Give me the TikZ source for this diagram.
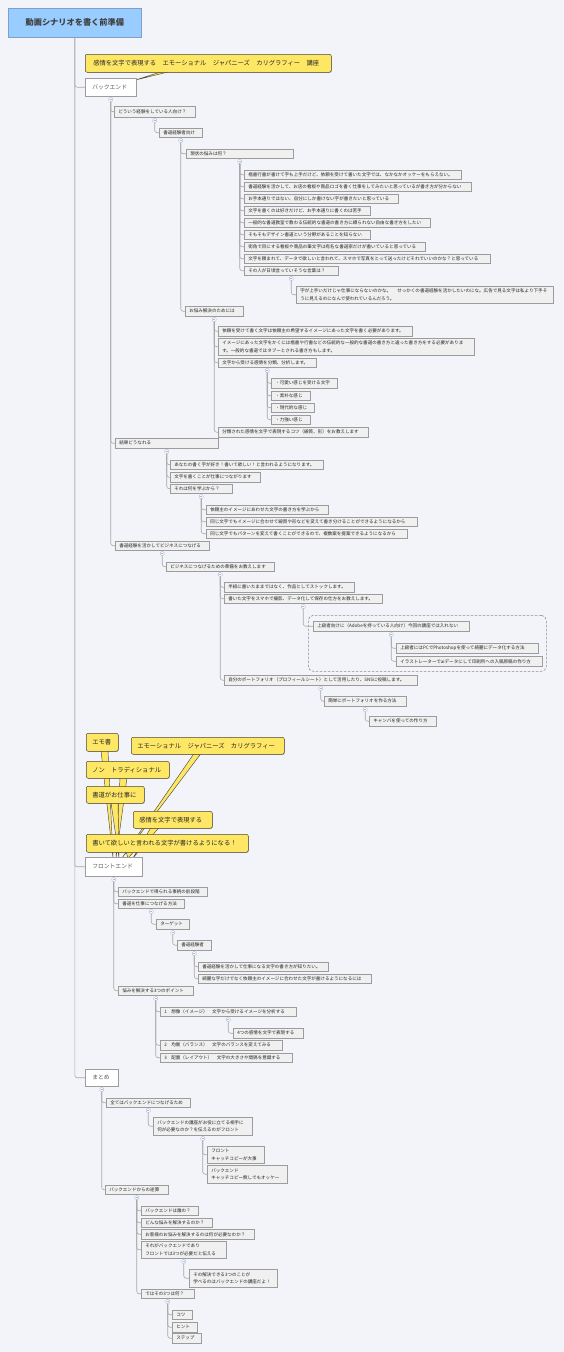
\documentclass[tikz,border=0pt]{standalone}
\usepackage{fontspec}
\setmainfont{Noto Sans CJK JP}
\usetikzlibrary{shadows}
\pgfdeclarelayer{bgl}
\pgfdeclarelayer{tails}
\pgfsetlayers{bgl,tails,main}
\definecolor{bg}{HTML}{F3F4F9}
\definecolor{itemfill}{HTML}{F0F0F0}
\definecolor{itemdraw}{HTML}{9C9C9C}
\definecolor{connc}{HTML}{A8A8A8}
\definecolor{togc}{HTML}{A9B8D8}
\definecolor{rootfill}{HTML}{99CCFF}
\definecolor{rootdraw}{HTML}{7F9FC8}
\definecolor{yel}{HTML}{FFE766}
\definecolor{yeldraw}{HTML}{4A4A3A}
\definecolor{txt}{HTML}{262626}
\tikzset{
  basebox/.style={rectangle, inner ysep=0pt, align=left, text=txt},
  itembox/.style={basebox, fill=itemfill, draw=itemdraw, line width=0.5pt,
    font=\fontsize{4.55}{7.5}\selectfont,
    drop shadow={shadow xshift=0.6pt, shadow yshift=-0.6pt, fill=black, opacity=0.25}},
  lvlbox/.style={basebox, fill=white, draw=itemdraw, line width=0.5pt,
    font=\fontsize{5.8}{8}\selectfont, text=black!65,
    drop shadow={shadow xshift=0.6pt, shadow yshift=-0.6pt, fill=black, opacity=0.2}},
  callout/.style={basebox, fill=yel, draw=yeldraw, line width=0.5pt, rounded corners=2pt,
    font=\fontsize{6.3}{8}\selectfont, text=black!85,
    drop shadow={shadow xshift=0.6pt, shadow yshift=-0.6pt, fill=black, opacity=0.25}},
  rootbox/.style={rectangle, fill=rootfill, draw=rootdraw, line width=0.6pt,
    font=\fontsize{8.2}{10}\selectfont\bfseries, text=black!75,
    drop shadow={shadow xshift=0.6pt, shadow yshift=-0.6pt, fill=black, opacity=0.2}},
  conn/.style={draw=connc, line width=0.6pt, rounded corners=2.5pt},
  tog/.style={circle, draw=togc, fill=white, line width=0.4pt, minimum size=4.2pt, inner sep=0pt,
    path picture={\draw[togc, line width=0.4pt] ([xshift=-1.1pt]path picture bounding box.center) -- ([xshift=1.1pt]path picture bounding box.center);}},
  tail/.style={fill=yel, draw=yeldraw, line width=0.45pt, line join=round},
  dashbox/.style={rectangle, draw=black!45, line width=0.6pt, dash pattern=on 2.5pt off 1.5pt, rounded corners=5pt}
}
% style, pad, name, x1, y1, x2, y2, text
\newcommand\bx[8]{%
  \pgfmathsetmacro\bxw{#6-#4-2*#2}\pgfmathsetmacro\bxh{#7-#5}%
  \node[#1, inner xsep=#2pt, anchor=north west, text width=\bxw pt, minimum height=\bxh pt] (#3) at (#4,#5) {#8};}
\newcommand\ib[6]{\bx{itembox}{4}{#1}{#2}{#3}{#4}{#5}{#6}}
\newcommand\kids[2]{%
  \node[tog] (t#1) at ([yshift=-3pt]#1.south) {};
  \foreach \c in {#2} {\draw[conn] (t#1.south) |- (\c.west);}}
\begin{document}
\begin{tikzpicture}[x=1pt, y=-1pt]
\begin{pgfonlayer}{bgl}
\fill[bg] (0,0) rectangle (564,1352);
\end{pgfonlayer}
\useasboundingbox (0,0) rectangle (564,1352);

\node[rootbox, anchor=north west, minimum width=133pt, minimum height=29pt] (root) at (8,8) {動画シナリオを書く前準備};
\bx{callout}{8}{co1}{85}{54}{331}{72}{感情を文字で表現する　エモーショナル　ジャパニーズ　カリグラフィー　講座}
\bx{lvlbox}{7}{bk}{85}{78}{136}{96}{バックエンド}

\ib{n1}{114}{106}{195}{117}{どういう経験をしている人向け？}
\ib{n11}{159}{128}{202}{137}{書道経験者向け}
\ib{n111}{186}{149}{293}{158}{現状の悩みは何？}
\ib{a1}{244}{170}{461}{179}{楷書行書が書けて字も上手だけど、依頼を受けて書いた文字では、なかなかオッケーをもらえない。}
\ib{a2}{244}{182}{471}{191}{書道経験を活かして、お店の看板や商品ロゴを書く仕事をしてみたいと思っているが書き方が分からない}
\ib{a3}{244}{194}{398}{203}{お手本通りではない、自分にしか書けない字が書きたいと思っている}
\ib{a4}{244}{206}{370}{215}{文字を書くのは好きだけど、お手本通りに書くのは苦手}
\ib{a5}{244}{218}{430}{227}{一般的な書道教室で教わる伝統的な書道の書き方に縛られない自由な書き方をしたい}
\ib{a6}{244}{230}{370}{239}{そもそもデザイン書道という分野があることを知らない}
\ib{a7}{244}{242}{425}{251}{街角で目にする看板や商品の筆文字は有名な書道家だけが書いていると思っている}
\ib{a8}{244}{254}{490}{263}{文字を頼まれて、データで欲しいと言われて、スマホで写真をとって送ったけどそれでいいのかな？と思っている}
\ib{a9}{244}{266}{338}{275}{その人が日頃言っていそうな言葉は？}
\ib{a91}{296}{286}{553}{303}{字が上手いだけじゃ仕事にならないのかな。\hspace{6pt}せっかくの書道経験を活かしたいのにな。広告で見る文字は私より下手そ\\うに見えるのになんで使われているんだろう。}
\ib{n112}{185}{306}{243}{316}{お悩み解決のためには}
\ib{b1}{218}{326}{412}{336}{依頼を受けて書く文字は依頼主の希望するイメージにあった文字を書く必要があります。}
\ib{b2}{218}{338}{474}{355}{イメージにあった文字をかくには楷書や行書などの伝統的な一般的な書道の書き方と違った書き方をする必要がありま\\す。一般的な書道ではタブーとされる書き方もします。}
\ib{b3}{218}{358}{316}{367}{文字から受ける感情を分類、分析します。}
\ib{b31}{271}{378}{337}{388}{・可愛い感じを受ける文字}
\ib{b32}{271}{391}{310}{400}{・素朴な感じ}
\ib{b33}{271}{403}{314}{412}{・現代的な感じ}
\ib{b34}{271}{415}{310}{424}{・力強い感じ}
\ib{b4}{218}{427}{368}{437}{分類された感情を文字で表現するコツ（線質、形）をお教えします}
\ib{n2}{115}{438}{218}{448}{結果どうなれる}
\ib{c1}{170}{460}{323}{469}{あなたの書く字が好き！書いて欲しい！と言われるようになります。}
\ib{c2}{170}{472}{260}{482}{文字を書くことが仕事につながります}
\ib{c3}{170}{484}{232}{493}{それは何を学ぶから？}
\ib{c31}{206}{505}{328}{514}{依頼主のイメージにあわせた文字の書き方を学ぶから}
\ib{c32}{206}{517}{417}{526}{同じ文字でもイメージに合わせて線質や形などを変えて書き分けることができるようになるから}
\ib{c33}{206}{529}{407}{538}{同じ文字でもパターンを変えて書くことができるので、複数案を提案できるようになるから}
\ib{n3}{115}{541}{209}{550}{書道経験を活かしてビジネスにつなげる}
\ib{d1}{166}{562}{274}{571}{ビジネスにつなげるための準備をお教えします}
\ib{d11}{224}{582}{354}{592}{半紙に書いたままではなく、作品としてストックします。}
\ib{d12}{224}{594}{382}{603}{書いた文字をスマホで撮影、データ化して保存の仕方をお教えします。}
\node[dashbox, anchor=north west, minimum width=238pt, minimum height=56pt] (dbox) at (308,615) {};
\ib{d121}{313}{621}{469}{631}{上級者向けに（Adobeを持っている人向け）今回の講座では入れない}
\ib{d1211}{396}{643}{538}{653}{上級者にはPCでPhotoshopを使って綺麗にデータ化する方法}
\ib{d1212}{396}{656}{542}{666}{イラストレーターでaiデータにして印刷所への入稿原稿の作り方}
\ib{d13}{224}{675}{417}{685}{自分のポートフォリオ（プロフィールシート）として活用したり、SNSに投稿します。}
\ib{d131}{324}{696}{406}{706}{簡単にポートフォリオを作る方法}
\ib{d1311}{369}{716}{436}{726}{キャンバを使っての作り方}

\bx{callout}{6}{e1}{86}{733}{118}{751}{エモ書}
\bx{callout}{6}{e2}{131}{737}{284}{754}{エモーショナル　ジャパニーズ　カリグラフィー}
\bx{callout}{6}{e3}{86}{761}{169}{778}{ノン　トラディショナル}
\bx{callout}{6}{e4}{86}{786}{144}{803}{書道がお仕事に}
\bx{callout}{6}{e5}{133}{811}{212}{828}{感情を文字で表現する}
\bx{callout}{6}{e6}{86}{834}{248}{852}{書いて欲しいと言われる文字が書けるようになる！}

\bx{lvlbox}{7}{fe}{85}{857}{142}{876}{フロントエンド}
\ib{f1}{118}{887}{207}{896}{バックエンドで得られる事柄の前段階}
\ib{f2}{118}{899}{184}{908}{書道を仕事につなげる方法}
\ib{f21}{156}{919}{189}{929}{ターゲット}
\ib{f211}{177}{940}{211}{950}{書道経験者}
\ib{f2111}{198}{962}{328}{971}{書道経験を活かして仕事になる文字の書き方が知りたい。}
\ib{f2112}{198}{974}{371}{983}{綺麗な字だけでなく依頼主のイメージに合わせた文字が書けるようになるには}
\ib{f3}{118}{986}{193}{995}{悩みを解決する3つのポイント}
\ib{f31}{160}{1007}{296}{1016}{1　想像（イメージ）　文字から受けるイメージを分析する}
\ib{f311}{233}{1028}{303}{1038}{4つの感情を文字で表現する}
\ib{f32}{160}{1040}{282}{1050}{2　均衡（バランス）　文字のバランスを変えてみる}
\ib{f33}{160}{1053}{292}{1062}{3　配置（レイアウト）　文字の大きさや間隔を意識する}

\bx{lvlbox}{7}{mt}{85}{1069}{118}{1086}{まとめ}
\ib{g1}{106}{1098}{190}{1107}{全てはバックエンドにつなげるため}
\ib{g11}{153}{1117}{252}{1135}{バックエンドの講座がお役に立てる相手に\\何が必要なのか？を伝えるのがフロント}
\ib{g111}{207}{1146}{264}{1163}{フロント\\キャッチコピーが大事}
\ib{g112}{207}{1165}{287}{1183}{バックエンド\\キャッチコピー無しでもオッケー}
\ib{g2}{105}{1185}{168}{1194}{バックエンドからの逆算}
\ib{g21}{141}{1206}{198}{1215}{バックエンドは誰の？}
\ib{g22}{141}{1218}{212}{1227}{どんな悩みを解決するのか？}
\ib{g23}{141}{1229}{254}{1239}{お客様のお悩みを解決するのは何が必要なのか？}
\ib{g24}{141}{1241}{226}{1258}{それがバックエンドであり\\フロントでは3つが必要だと伝える}
\ib{g241}{189}{1269}{277}{1287}{その解決できる3つのことが\\学べるのはバックエンドの講座だよ！}
\ib{g25}{141}{1289}{194}{1298}{ではその3つは何？}
\ib{g251}{172}{1310}{192}{1319}{コツ}
\ib{g252}{172}{1322}{197}{1332}{ヒント}
\ib{g253}{172}{1333}{201}{1343}{ステップ}

% trunk
\draw[conn] (root.south) |- (bk.west);
\draw[conn] (root.south) |- (fe.west);
\draw[conn] (root.south) |- (mt.west);

% branches
\kids{bk}{n1,n2,n3}
\kids{n1}{n11}
\kids{n11}{n111,n112}
\kids{n111}{a1,a2,a3,a4,a5,a6,a7,a8,a9}
\kids{a9}{a91}
\kids{n112}{b1,b2,b3,b4}
\kids{b3}{b31,b32,b33,b34}
\kids{n2}{c1,c2,c3}
\kids{c3}{c31,c32,c33}
\kids{n3}{d1}
\kids{d1}{d11,d12,d13}
\kids{d12}{d121}
\kids{d121}{d1211,d1212}
\kids{d13}{d131}
\kids{d131}{d1311}
\kids{fe}{f1,f2,f3}
\kids{f2}{f21}
\kids{f21}{f211}
\kids{f211}{f2111,f2112}
\kids{f3}{f31,f32,f33}
\kids{f31}{f311}
\kids{mt}{g1,g2}
\kids{g1}{g11}
\kids{g11}{g111,g112}
\kids{g2}{g21,g22,g23,g24,g25}
\kids{g24}{g241}
\kids{g25}{g251,g252,g253}

% callout tails
\begin{pgfonlayer}{tails}
\draw[tail] ([xshift=77pt,yshift=1pt]co1.south west) -- ([xshift=85pt,yshift=1pt]co1.south west) -- ([xshift=-1pt,yshift=-2pt]bk.north east) -- cycle;
\draw[tail] ([xshift=15pt,yshift=1pt]e1.south west) -- ([xshift=22pt,yshift=1pt]e1.south west) -- ([xshift=28pt,yshift=-1pt]fe.north west) -- cycle;
\draw[tail] ([xshift=34pt,yshift=1pt]e3.south west) -- ([xshift=41pt,yshift=1pt]e3.south west) -- ([xshift=31pt,yshift=-1pt]fe.north west) -- cycle;
\draw[tail] ([xshift=25pt,yshift=1pt]e4.south west) -- ([xshift=32pt,yshift=1pt]e4.south west) -- ([xshift=34pt,yshift=-1pt]fe.north west) -- cycle;
\draw[tail] ([xshift=63pt,yshift=1pt]e2.south west) -- ([xshift=70pt,yshift=1pt]e2.south west) -- ([xshift=37pt,yshift=-1pt]fe.north west) -- cycle;
\draw[tail] ([xshift=18pt,yshift=1pt]e5.south west) -- ([xshift=26pt,yshift=1pt]e5.south west) -- ([xshift=48pt,yshift=-1pt]fe.north west) -- cycle;
\draw[tail] ([xshift=40pt,yshift=1pt]e6.south west) -- ([xshift=48pt,yshift=1pt]e6.south west) -- ([xshift=43pt,yshift=-1pt]fe.north west) -- cycle;
\end{pgfonlayer}
\end{tikzpicture}
\end{document}
